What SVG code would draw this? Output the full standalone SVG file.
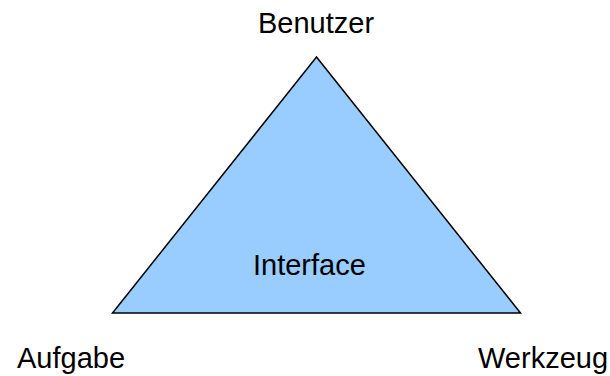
<svg xmlns="http://www.w3.org/2000/svg" width="610" height="376" viewBox="0 0 610 376">
<style>
.lbl{font-family:"Liberation Sans",Arial,sans-serif;font-size:29px;fill:#000}
.tri{fill:#99ccff;stroke:#000;stroke-width:1.5;stroke-linejoin:miter}
</style>
<rect width="610" height="376" fill="#fff"/>
<g id="interface">
<polygon class="tri" points="316.5,57 112.5,313 520.5,313"/>
<text class="lbl" x="253" y="275">Interface</text>
</g>
<g id="benutzer"><text class="lbl" x="258" y="33">Benutzer</text></g>
<g id="aufgabe"><text class="lbl" x="17" y="368">Aufgabe</text></g>
<g id="werkzeug"><text class="lbl" x="478" y="368">Werkzeug</text></g>
<g id="connectors"></g>
</svg>
